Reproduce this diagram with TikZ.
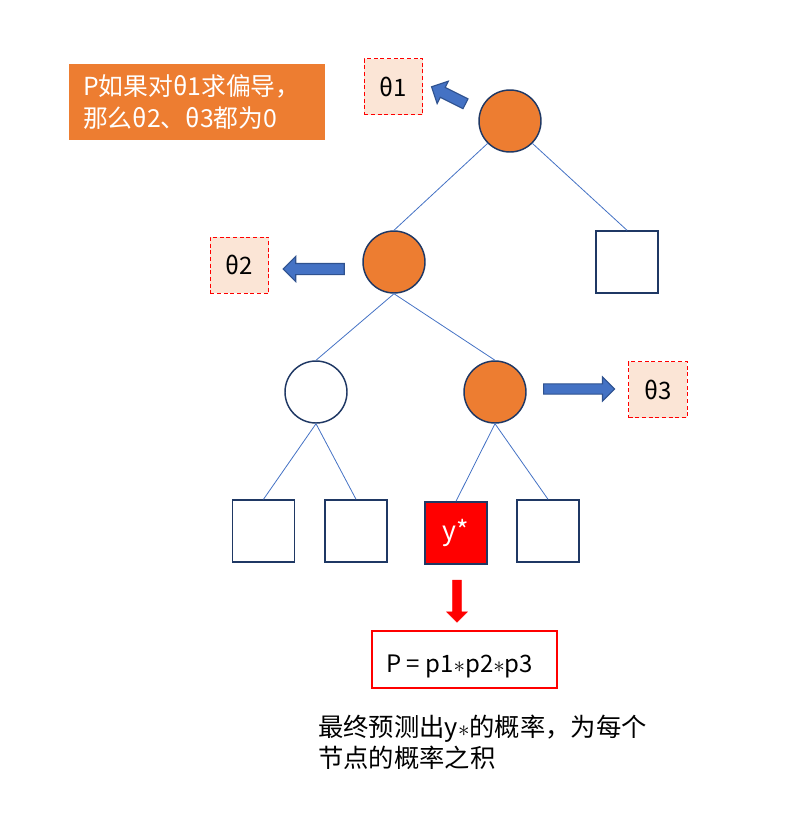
\documentclass[tikz,border=0pt]{standalone}
\usepackage{fontspec}
\setmainfont{Noto Sans CJK SC}
\usepackage{tikz}
\usetikzlibrary{shapes,arrows,positioning,calc}
\definecolor{nodeorange}{RGB}{237,125,49}
\definecolor{borderblue}{RGB}{31,56,100}
\definecolor{edgeblue}{RGB}{68,114,196}
\definecolor{arrowborder}{RGB}{47,82,143}
\definecolor{thetafill}{RGB}{251,229,214}
\tikzstyle{branchnode} = [circle, draw=borderblue, line width=1.1pt,
                          minimum size=46.5pt, fill=nodeorange]
\tikzstyle{leafnode} = [rectangle, draw=borderblue, line width=1.1pt,
                        minimum size=46.5pt, fill=white]
\tikzstyle{thetabox} = [rectangle, draw=red, line width=0.6pt,
                        dash pattern=on 3pt off 2pt, fill=thetafill,
                        minimum width=44pt, minimum height=42pt,
                        font=\fontsize{18}{20}\selectfont]
\tikzstyle{edge} = [draw=edgeblue, line width=0.6pt]
\tikzstyle{blockarrow} = [single arrow, draw=arrowborder, fill=edgeblue,
                          line width=0.8pt, inner xsep=0pt, inner ysep=3.75pt,
                          single arrow head extend=5.25pt,
                          single arrow head indent=0pt]

\begin{document}
\begin{tikzpicture}[x=0.75pt, y=-0.75pt]
    \useasboundingbox (0,0) rectangle (787,825);

    % Tree nodes
    \node[branchnode] (root) at (510,121) {};
    \node[branchnode] (n2) at (394,262) {};
    \node[leafnode] (r1) at (627,262) {};
    \node[branchnode, fill=white] (n3a) at (316,392) {};
    \node[branchnode] (n3b) at (495,392) {};
    \foreach \i/\xx in {1/263.5,2/356,4/548} {
        \node[leafnode] (leaf\i) at (\xx,531) {};
    }
    \node[leafnode, fill=red, text=white, font=\fontsize{20}{24}\selectfont] (leaf3) at (456,533) {y*};

    % Edges
    \draw[edge] (root.225) -- (n2.north);
    \draw[edge] (root.-45) -- (r1.north);
    \draw[edge] (n2.south) -- (n3a.north);
    \draw[edge] (n2.south) -- (n3b.north);
    \draw[edge] (n3a.south) -- (leaf1.north);
    \draw[edge] (n3a.south) -- (leaf2.north);
    \draw[edge] (n3b.south) -- (leaf3.north);
    \draw[edge] (n3b.south) -- (leaf4.north);

    % Parameter boxes and arrows
    \node[thetabox] (theta1) at (393.5,86.5) {θ1};
    \node[thetabox] (theta2) at (239.5,265) {θ2};
    \node[thetabox] (theta3) at (658,389.5) {θ3};
    \node[blockarrow, minimum height=28.5pt, rotate=153.4] (arr1) at (451,96.5) {};
    \node[blockarrow, minimum height=45.75pt, rotate=180] (arr2) at (316.5,269) {};
    \node[blockarrow, minimum height=53.25pt, inner ysep=3.4pt] (arr3) at (576.5,389) {};

    % Note
    \node[rectangle, fill=nodeorange, text=white, align=left, text width=171pt,
          inner xsep=10.5pt, minimum height=57pt, font=\fontsize{18.6}{24}\selectfont]
          (note) at (197,102) {P如果对θ1求偏导，\\那么θ2、θ3都为0};

    % Result
    \node[single arrow, fill=red, draw=red, minimum height=31.5pt, inner xsep=0pt,
          inner ysep=3pt, single arrow head extend=4.5pt, single arrow head indent=0pt,
          rotate=-90] (arrp) at (457,599) {};
    \node[rectangle, draw=red, line width=1.6pt, minimum width=138.75pt,
          minimum height=42.75pt] (pbox) at (464.5,659.5) {};
    \node[anchor=west, inner sep=0pt, font=\fontsize{18}{22}\selectfont]
          (ptext) at (386,666) {P = p1$\ast$p2$\ast$p3};
    \node[anchor=west, align=left, inner sep=0pt, font=\fontsize{19}{23}\selectfont]
          (caption) at (318,742.5) {最终预测出y$\ast$的概率，为每个\\节点的概率之积};
\end{tikzpicture}
\end{document}
